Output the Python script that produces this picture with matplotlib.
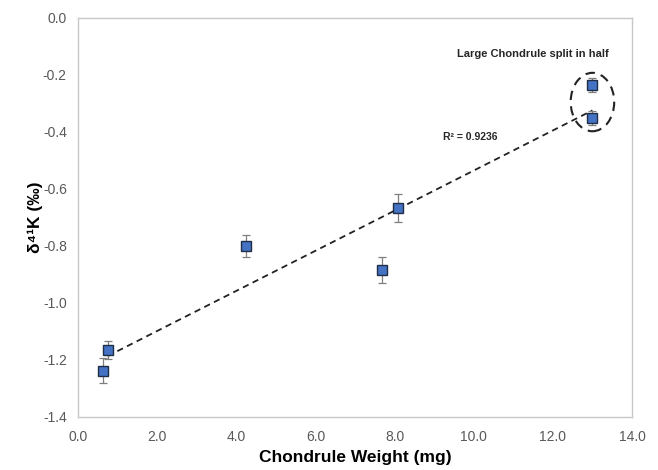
import numpy as np
import matplotlib.pyplot as plt
from matplotlib.patches import Ellipse

plt.rcParams['font.family'] = ['Liberation Sans', 'DejaVu Sans']

# chondrule weight (mg) vs delta 41K (permil)
weight = [0.62, 0.75, 4.25, 7.68, 8.09, 13.0, 13.0]
d41k = [-1.237, -1.165, -0.800, -0.884, -0.667, -0.235, -0.351]
err = [0.045, 0.030, 0.040, 0.045, 0.050, 0.025, 0.025]

x_ticks = [0, 2, 4, 6, 8, 10, 12, 14]
y_ticks = [0.0, -0.2, -0.4, -0.6, -0.8, -1.0, -1.2, -1.4]

fig = plt.figure(figsize=(6.58, 4.70), dpi=100)
ax = fig.add_axes([0.1185, 0.1128, 0.842, 0.849])

# linear trendline
slope, icpt = np.polyfit(weight, d41k, 1)
xl = np.array([min(weight[1:]), max(weight)])
ax.plot(xl, slope * xl + icpt, ls=(0, (3.5, 2.5)), color='#222222', lw=1.3, zorder=2)

ax.errorbar(weight, d41k, yerr=err, fmt='none', ecolor='#7f7f7f', elinewidth=0.9,
            capsize=3, capthick=0.9, zorder=3)
ax.plot(weight, d41k, 's', ms=7.6, mfc='#4472C4', mec='#1f2d45', mew=1.0, zorder=4)

# dashed ellipse around the split chondrule
ax.add_patch(Ellipse((13.0, -0.295), 1.1, 0.205, fill=False, ls=(0, (4.5, 3)),
                     lw=1.5, ec='#222222', zorder=5))

ax.text(11.5, -0.126, 'Large Chondrule split in half', ha='center', va='center',
        fontsize=8, fontweight='bold', color='#262626')
ax.text(9.22, -0.417, 'R² = 0.9236', ha='left', va='center',
        fontsize=7.5, fontweight='bold', color='#262626')

ax.set_xlim(0, 14)
ax.set_ylim(-1.4, 0.0)
ax.set_xticks(x_ticks)
ax.set_xticklabels([f'{v:.1f}' for v in x_ticks])
ax.set_yticks(y_ticks)
ax.set_yticklabels([f'{v:.1f}' for v in y_ticks])
ax.tick_params(length=0, labelsize=10, labelcolor='#595959')
ax.tick_params(axis='x', pad=9.5)
ax.tick_params(axis='y', pad=8)

for s in ax.spines.values():
    s.set_color('#c8c8c8')
    s.set_linewidth(1.0)

ax.set_xlabel('Chondrule Weight (mg)', fontsize=12.5, fontweight='bold', labelpad=4)
ax.set_ylabel('δ⁴¹K (‰)', fontsize=12.5, fontweight='bold', labelpad=0)

fig.savefig('out.png', dpi=100)
